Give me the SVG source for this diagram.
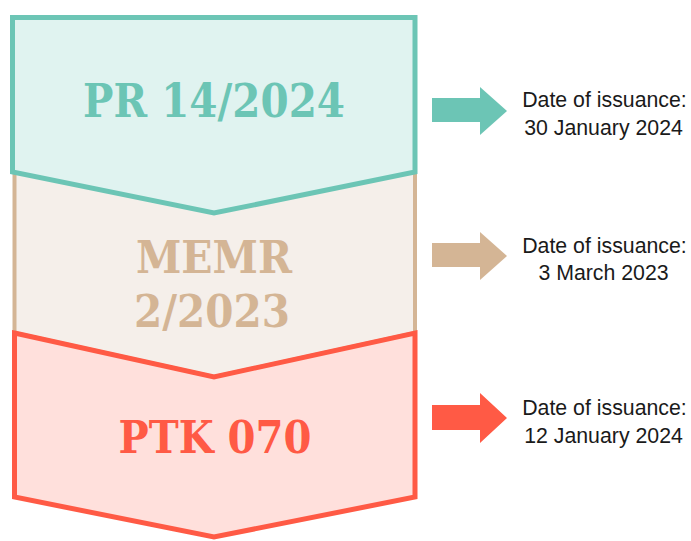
<svg xmlns="http://www.w3.org/2000/svg" width="691" height="541" viewBox="0 0 691 541">
<style>
.title{font-family:Georgia,"DejaVu Serif","Liberation Serif",serif;font-weight:bold;text-anchor:middle}
.date{font-family:"Liberation Sans",Arial,sans-serif;font-size:21.3px;fill:#1a1a1a;text-anchor:middle}
</style>
<rect width="691" height="541" fill="#ffffff"/>
<g id="node-memr">
<polygon points="14.5,160 415,160 415,333 214,377 14.5,333" fill="#F5EFEA" stroke="#D4B595" stroke-width="4"/>
<text class="title" x="214" y="273" font-size="44" fill="#D4B595" textLength="156" lengthAdjust="spacingAndGlyphs">MEMR</text>
<text class="title" x="212" y="327" font-size="44" fill="#D4B595" textLength="156" lengthAdjust="spacingAndGlyphs">2/2023</text>
</g>
<g id="node-pr">
<polygon points="12.5,17.5 415,17.5 415,172 214,213 12.5,172" fill="#E0F3F0" stroke="#6CC5B5" stroke-width="5" stroke-linejoin="miter"/>
<text class="title" x="214" y="117" font-size="46" fill="#6CC5B5" textLength="262" lengthAdjust="spacingAndGlyphs">PR 14/2024</text>
</g>
<g id="node-ptk">
<polygon points="14.5,333 214,377 415,333 415,497 214,537 14.5,497" fill="#FFE0DC" stroke="#FF5A45" stroke-width="5" stroke-linejoin="miter"/>
<text class="title" x="215" y="453" font-size="44" fill="#FF5A45" textLength="193" lengthAdjust="spacingAndGlyphs">PTK 070</text>
</g>
<g id="connectors">
<polygon points="432,98 480,98 480,87 507,111 480,135 480,122 432,122" fill="#6CC5B5"/>
<polygon points="432,243 480,243 480,232 507,256 480,280 480,267 432,267" fill="#D4B595"/>
<polygon points="432,405 480,405 480,393 507,418 480,443 480,430 432,430" fill="#FF5A45"/>
</g>
<g id="label-1">
<text class="date" x="604.5" y="107">Date of issuance:</text>
<text class="date" x="603.5" y="135">30 January 2024</text>
</g>
<g id="label-2">
<text class="date" x="604.5" y="253">Date of issuance:</text>
<text class="date" x="603.5" y="280">3 March 2023</text>
</g>
<g id="label-3">
<text class="date" x="604.5" y="415">Date of issuance:</text>
<text class="date" x="603.5" y="443">12 January 2024</text>
</g>
</svg>
